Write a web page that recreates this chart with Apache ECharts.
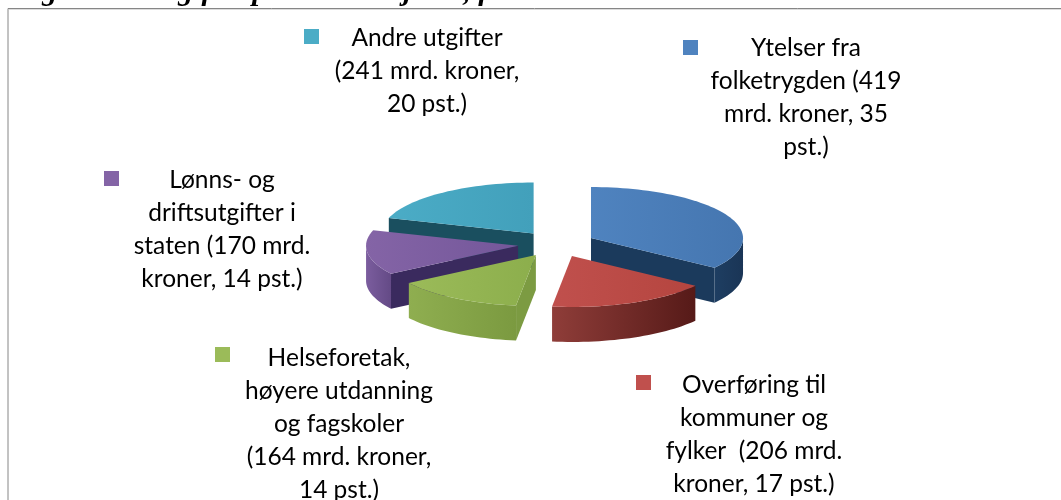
<!DOCTYPE html>
<html lang="no">
<head>
    <meta charset="UTF-8">
    <title>Utgifter på statsbudsjettet</title>
    <style>
        html, body { margin: 0; padding: 0; background: #fff; }
        #container { width: 1061px; height: 500px; }
    </style>
    <script src="https://cdn.jsdelivr.net/npm/echarts@6/dist/echarts.min.js"></script>
</head>
<body>
<div id="container"></div>

<script type="text/javascript">
    // data
    var categories = ['Ytelser fra folketrygden', 'Overføring til kommuner og fylker', 'Helseforetak, høyere utdanning og fagskoler', 'Lønns- og driftsutgifter i staten', 'Andre utgifter'];
    var values = [419, 206, 164, 170, 241];
    var labels = [
        'Ytelser fra\nfolketrygden (419\nmrd. kroner, 35\npst.)',
        'Overføring til\nkommuner og\nfylker  (206 mrd.\nkroner, 17 pst.)',
        'Helseforetak,\nhøyere utdanning\nog fagskoler\n(164 mrd. kroner,\n14 pst.)',
        'Lønns- og\ndriftsutgifter i\nstaten (170 mrd.\nkroner, 14 pst.)',
        'Andre utgifter\n(241 mrd. kroner,\n20 pst.)'
    ];
    var titleText = 'Figur 1.1: Utgifter på statsbudsjettet, fordelt etter hovedområder';

    // styles, same order as the data
    var topColors = [['#4f83bf', '#4576b0'], ['#c0504d', '#b5453f'], ['#9bbb59', '#8cae4c'], ['#8464a6', '#74579a'], ['#4bacc6', '#42a0bb']];
    var wallColors = [['#1e3e62', '#1a3556'], ['#8f3d39', '#561a18'], ['#8fae50', '#7b9a40'], ['#7b5d9e', '#644a86'], ['#2f7f95', '#2f7f95']];
    var cutColors = ['#1b3a5c', '#6e2a27', '#7c9b42', '#3a2a5e', '#1a4f5f'];

    // layout of the labels: text centre, first line centre, key square
    var labelCenter = [[806, 48], [754, 385], [339, 358], [222, 180], [427, 38]];
    var keyPos = [[683, 40], [636, 375], [215, 347], [104, 171], [304, 29]];

    // pie projection
    var cx = 556.5, cy = 244, rx = 152, ry = 51, depth = 35, explode = 38.8;

    var total = values.reduce(function (a, b) { return a + b; }, 0);

    function point(ox, oy, deg, dy) {
        var a = deg * Math.PI / 180;
        return [ox + Math.sin(a) * rx, oy - Math.cos(a) * ry + (dy || 0)];
    }

    function arc(ox, oy, from, to, dy) {
        var pts = [];
        for (var d = from; d < to; d += 2) {
            pts.push(point(ox, oy, d, dy));
        }
        pts.push(point(ox, oy, to, dy));
        return pts;
    }

    function gradient(stops) {
        return {
            type: 'linear', x: 0, y: 0, x2: 1, y2: 0,
            colorStops: [{ offset: 0, color: stops[0] }, { offset: 1, color: stops[1] }]
        };
    }

    function renderSlice(params, api) {
        var i = params.dataIndex;
        var before = 0;
        for (var k = 0; k < i; k++) {
            before += values[k];
        }
        var start = before / total * 360;
        var end = (before + api.value(0)) / total * 360;
        var mid = (start + end) / 2 * Math.PI / 180;
        var ox = cx + Math.sin(mid) * explode;
        var oy = cy - Math.cos(mid) * explode * ry / rx;
        var z = Math.round(Math.cos(mid) * -100) + 100; // back slices first
        var children = [];

        // cut faces
        [[start, Math.sin(start * Math.PI / 180) < -0.01], [end, Math.sin(end * Math.PI / 180) > 0.01]].forEach(function (c) {
            if (c[1]) {
                var p = point(ox, oy, c[0]);
                children.push({
                    type: 'polygon', z2: z,
                    shape: { points: [[ox, oy], p, [p[0], p[1] + depth], [ox, oy + depth]] },
                    style: { fill: cutColors[i] }
                });
            }
        });

        // outer wall, front half only
        var from = Math.max(start, 90), to = Math.min(end, 270);
        if (from < to) {
            children.push({
                type: 'polygon', z2: z + 1,
                shape: { points: arc(ox, oy, from, to, 0).concat(arc(ox, oy, from, to, depth).reverse()) },
                style: { fill: gradient(wallColors[i]) }
            });
        }

        // top face
        children.push({
            type: 'polygon', z2: z + 2,
            shape: { points: [[ox, oy]].concat(arc(ox, oy, start, end, 0)) },
            style: { fill: gradient(topColors[i]) }
        });

        return { type: 'group', children: children };
    }

    var graphics = [
        // clipped figure caption above the frame
        {
            type: 'text', x: 14, y: 7,
            style: { text: titleText, font: 'italic bold 30px "Liberation Serif"', fill: '#000', textVerticalAlign: 'bottom' }
        },
        // frame, only top and left are in the crop
        { type: 'line', shape: { x1: 8, y1: 8.5, x2: 1061, y2: 8.5 }, style: { stroke: '#868686', lineWidth: 1 } },
        { type: 'line', shape: { x1: 9, y1: 9.5, x2: 1061, y2: 9.5 }, style: { stroke: '#dcdcdc', lineWidth: 1 } },
        { type: 'line', shape: { x1: 8, y1: 8.5, x2: 8, y2: 500 }, style: { stroke: '#868686', lineWidth: 1 } }
    ];

    labels.forEach(function (text, i) {
        graphics.push({
            type: 'rect',
            shape: { x: keyPos[i][0], y: keyPos[i][1], width: 15, height: 15 },
            style: { fill: topColors[i][0] }
        });
        graphics.push({
            type: 'text', x: labelCenter[i][0], y: labelCenter[i][1] - 16.5,
            style: {
                text: text,
                font: '24.5px Lato',
                lineHeight: 33,
                fill: '#000',
                textAlign: 'center'
            }
        });
    });

    var dom = document.getElementById('container');
    var myChart = echarts.init(dom, null, { renderer: 'canvas' });

    var option = {
        animation: false,
        backgroundColor: '#fff',
        graphic: graphics,
        series: [
            {
                type: 'custom',
                coordinateSystem: 'none',
                renderItem: renderSlice,
                data: values.map(function (v, i) { return { name: categories[i], value: [v] }; })
            }
        ]
    };

    myChart.setOption(option);
    window.addEventListener('resize', myChart.resize);
</script>
</body>
</html>
